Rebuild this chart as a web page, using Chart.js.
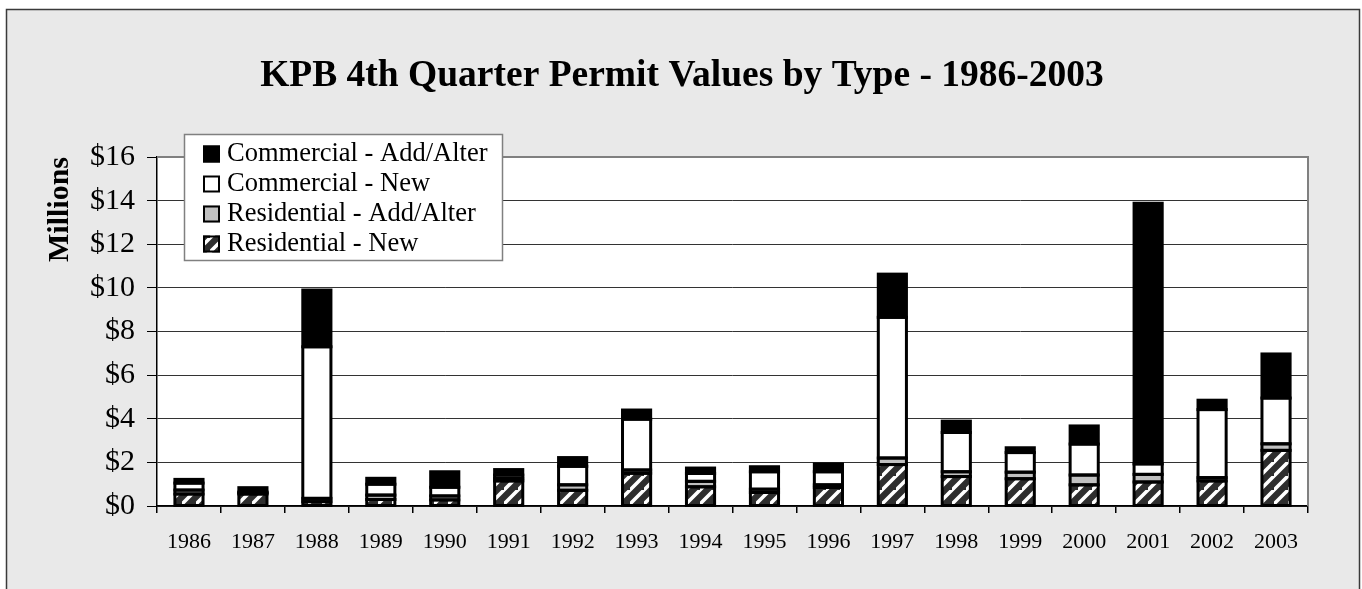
<!DOCTYPE html>
<html>
<head>
<meta charset="utf-8">
<script src="https://cdn.jsdelivr.net/npm/chart.js@4/dist/chart.umd.min.js"></script>
<style>
html,body{margin:0;padding:0;background:#fff;}
#wrap{width:1362px;height:589px;}
</style>
</head>
<body>
<div id="wrap"><canvas id="c" width="1362" height="589"></canvas></div>
<script>
const years = ['1986','1987','1988','1989','1990','1991','1992','1993','1994','1995','1996','1997','1998','1999','2000','2001','2002','2003'];
const residentialNew   = [0.55, 0.55, 0.20, 0.30, 0.28, 1.15, 0.72, 1.50, 0.88, 0.62, 0.85, 1.90, 1.35, 1.25, 0.97, 1.10, 1.15, 2.55];
const residentialAdd   = [0.18, 0.05, 0.15, 0.20, 0.18, 0.12, 0.25, 0.15, 0.25, 0.15, 0.12, 0.30, 0.22, 0.30, 0.45, 0.35, 0.15, 0.30];
const commercialNew    = [0.32, 0.04, 6.95, 0.50, 0.40, 0.15, 0.85, 2.33, 0.36, 0.80, 0.60, 6.45, 1.80, 0.90, 1.42, 0.48, 3.12, 2.10];
const commercialAdd    = [0.17, 0.20, 2.60, 0.27, 0.71, 0.25, 0.40, 0.42, 0.25, 0.23, 0.36, 1.98, 0.52, 0.22, 0.83, 11.95, 0.43, 2.02];
const seriesNames = ['Residential - New', 'Residential - Add/Alter', 'Commercial - New', 'Commercial - Add/Alter'];
const titleText = 'KPB 4th Quarter Permit Values by Type - 1986-2003';
const yTitle = 'Millions';

function hatch() {
  const s = 14;
  const c = document.createElement('canvas');
  c.width = s; c.height = s;
  const x = c.getContext('2d');
  x.fillStyle = '#2e2e2e';
  x.fillRect(0, 0, s, s);
  x.strokeStyle = '#ffffff';
  x.lineWidth = 3.6;
  x.beginPath();
  x.moveTo(-2, s + 2); x.lineTo(s + 2, -2);
  x.moveTo(-2 - s, s + 2); x.lineTo(2, -2);
  x.moveTo(s - 2, 2 * s + 2); x.lineTo(2 * s + 2, s - 2);
  x.stroke();
  return x.createPattern(c, 'repeat');
}
const hatchPattern = hatch();
const fills = [hatchPattern, '#c0c0c0', '#ffffff', '#000000'];
const seriesData = [residentialNew, residentialAdd, commercialNew, commercialAdd];

const serif = "'Liberation Serif', 'Times New Roman', serif";

const frame = {
  id: 'frame',
  beforeDraw(chart) {
    const ctx = chart.ctx, a = chart.chartArea;
    ctx.save();
    ctx.fillStyle = '#ffffff';
    ctx.fillRect(0, 0, chart.width, chart.height);
    ctx.fillStyle = '#e9e9e9';
    ctx.fillRect(6, 9, 1354, 600);
    ctx.strokeStyle = '#3a3a3a';
    ctx.lineWidth = 1.5;
    ctx.strokeRect(6.5, 9.5, 1353, 620);
    ctx.fillStyle = '#ffffff';
    ctx.fillRect(a.left, a.top, a.right - a.left, a.bottom - a.top);
    ctx.fillStyle = '#000';
    ctx.font = 'bold 37.5px ' + serif;
    ctx.textAlign = 'center';
    ctx.textBaseline = 'middle';
    ctx.fillText(titleText, 682, 76);
    ctx.restore();
  },
  afterDatasetsDraw(chart) {
    const ctx = chart.ctx, a = chart.chartArea;
    ctx.save();
    // segment outlines centred on the segment edges (Excel style)
    ctx.strokeStyle = '#000';
    ctx.lineWidth = 3;
    chart.data.datasets.forEach((ds, di) => {
      chart.getDatasetMeta(di).data.forEach(el => {
        const p = el.getProps(['x', 'y', 'base', 'width'], true);
        const top = Math.min(p.y, p.base), h = Math.abs(p.base - p.y);
        ctx.strokeRect(p.x - p.width / 2, top, p.width, h);
      });
    });
    ctx.strokeStyle = '#808080';
    ctx.lineWidth = 2;
    ctx.beginPath();
    ctx.moveTo(a.left, a.top);
    ctx.lineTo(a.right, a.top);
    ctx.lineTo(a.right, a.bottom);
    ctx.stroke();
    ctx.restore();
  },
  afterDraw(chart) {
    const ctx = chart.ctx;
    ctx.save();
    ctx.fillStyle = '#ffffff';
    ctx.fillRect(184, 134, 318, 126);
    ctx.strokeStyle = '#808080';
    ctx.lineWidth = 1.5;
    ctx.strokeRect(184.5, 134.5, 318, 126);
    ctx.font = '26.5px ' + serif;
    ctx.textBaseline = 'middle';
    ctx.textAlign = 'left';
    for (let k = 0; k < 4; k++) {
      const i = 3 - k;
      const cy = 153.5 + 30 * k;
      ctx.fillStyle = fills[i];
      ctx.fillRect(203, cy - 8, 17, 17);
      ctx.strokeStyle = '#000';
      ctx.lineWidth = 2;
      ctx.strokeRect(204, cy - 7, 15, 15);
      ctx.fillStyle = '#000';
      ctx.fillText(chart.data.datasets[i].label, 227, cy + 1);
    }
    ctx.restore();
  }
};

new Chart(document.getElementById('c'), {
  type: 'bar',
  data: {
    labels: years,
    datasets: seriesData.map((d, i) => ({
      label: seriesNames[i],
      data: d,
      backgroundColor: fills[i],
      borderWidth: 0,
      inflateAmount: 0,
      categoryPercentage: 1.0,
      barPercentage: 0.44
    }))
  },
  options: {
    responsive: false,
    animation: false,
    layout: { padding: { top: 157, left: 0, right: 54, bottom: 0 } },
    plugins: { legend: { display: false }, title: { display: false }, tooltip: { enabled: false } },
    scales: {
      x: {
        stacked: true,
        afterFit(s) { s.height = 83; },
        border: { display: true, color: '#000', width: 1.5 },
        grid: { offset: true, drawOnChartArea: false, drawTicks: true, tickLength: 7, tickColor: '#000', lineWidth: 1.5 },
        ticks: { color: '#000', font: { family: serif, size: 22 }, padding: 16, maxRotation: 0, autoSkip: false }
      },
      y: {
        stacked: true,
        min: 0, max: 16,
        afterFit(s) { s.width = 157; },
        border: { display: true, color: '#000', width: 1.5 },
        grid: { color: '#333333', lineWidth: 1, drawTicks: true, tickLength: 10, tickColor: '#000' },
        ticks: { stepSize: 2, color: '#000', font: { family: serif, size: 30 }, padding: 12, callback: v => '$' + v },
        title: { display: true, text: yTitle, align: 'end', color: '#000', font: { family: serif, size: 30, weight: 'bold' }, padding: { top: 42, bottom: 0 } }
      }
    }
  },
  plugins: [frame]
});
</script>
</body>
</html>
